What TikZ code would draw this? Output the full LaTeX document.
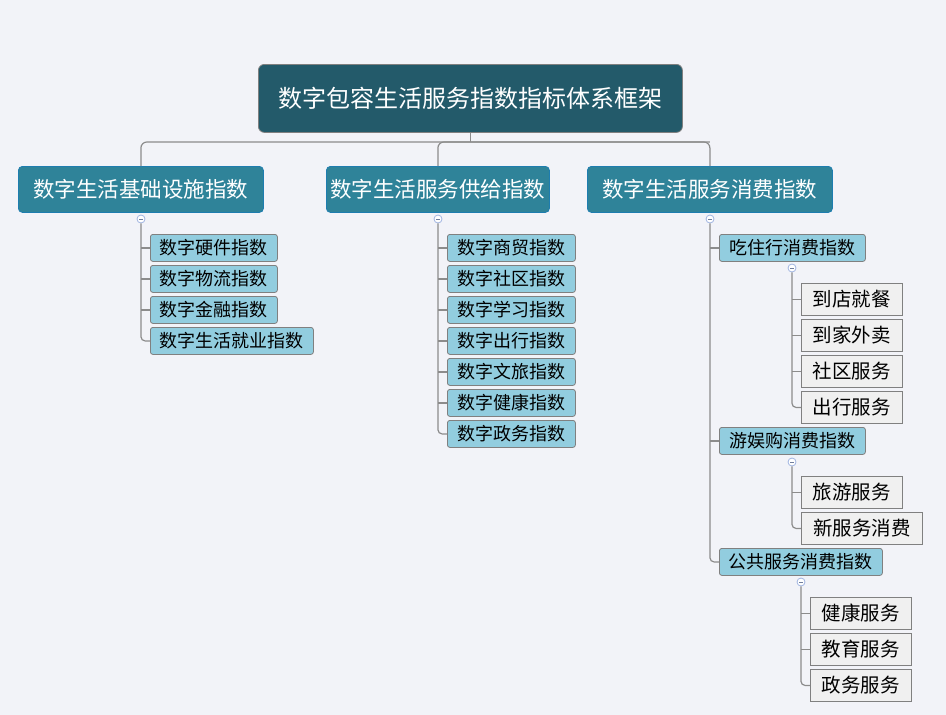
\documentclass[tikz,border=0pt]{standalone}
\usepackage{fontspec}
\setmainfont{Noto Sans CJK SC}
\definecolor{bgc}{RGB}{242,243,248}
\definecolor{rootc}{RGB}{35,90,106}
\definecolor{lonec}{RGB}{47,131,153}
\definecolor{lonebd}{RGB}{30,125,175}
\definecolor{ltwoc}{RGB}{146,205,223}
\definecolor{childc}{RGB}{240,240,240}
\definecolor{bdc}{RGB}{128,128,128}
\definecolor{linec}{RGB}{140,140,140}
\definecolor{togc}{RGB}{160,180,225}
\begin{document}
\begin{tikzpicture}[x=1pt,y=-1pt,
  rootbox/.style={draw=bdc,fill=rootc,rounded corners=6pt,text=white,anchor=north west,inner sep=0pt,font=\fontsize{24}{28}\selectfont,line width=0.8pt},
  onebox/.style={draw=lonebd,fill=lonec,rounded corners=4pt,text=white,anchor=north west,inner sep=0pt,font=\fontsize{21.5}{25}\selectfont,line width=0.8pt},
  twobox/.style={draw=bdc,fill=ltwoc,rounded corners=2.5pt,text=black,anchor=north west,inner sep=0pt,minimum height=27pt,font=\fontsize{18}{21}\selectfont,line width=0.8pt},
  leafbox/.style={draw=bdc,fill=childc,text=black,anchor=north west,inner sep=0pt,minimum height=32pt,font=\fontsize{19.5}{23}\selectfont,line width=0.8pt},
  conn/.style={draw=linec,line width=1.2pt},
  tog/.style={circle,draw=togc,fill=white,minimum size=8pt,inner sep=0pt,line width=0.8pt},
  togminus/.style={draw=togc!70!black,line width=0.7pt}
]
\fill[bgc] (0,0) rectangle (946,715);
\useasboundingbox (0,0) rectangle (946,715);

% root
\node[rootbox,minimum width=424pt,minimum height=68pt] (root) at (258,64) {数字包容生活服务指数指标体系框架};
% level 1
\node[onebox,minimum width=245pt,minimum height=46pt] (A) at (18,166) {数字生活基础设施指数};
\node[onebox,minimum width=223pt,minimum height=46pt] (B) at (326,166) {数字生活服务供给指数};
\node[onebox,minimum width=245pt,minimum height=46pt] (C) at (587,166) {数字生活服务消费指数};

\coordinate (bus) at (470,142);
\draw[conn] (root.south) -- (root.south |- bus);
\draw[conn,rounded corners=6pt] (A.north) |- (C.north |- bus) -- (C.north);
\draw[conn,rounded corners=6pt] (B.north) |- (C.north |- bus);

% A children
\node[twobox,minimum width=127pt] (a1) at (150,234) {数字硬件指数};
\node[twobox,minimum width=127pt] (a2) at (150,265) {数字物流指数};
\node[twobox,minimum width=127pt] (a3) at (150,296) {数字金融指数};
\node[twobox,minimum width=163pt] (a4) at (150,327) {数字生活就业指数};
\node[tog] (ta) at (141,219) {};
\draw[conn,rounded corners=4pt] (ta.south) |- (a4.west);
\foreach \n in {a1,a2,a3} \draw[conn] (\n.west) -- (\n.west -| ta);

% B children
\node[twobox,minimum width=128pt] (b1) at (447,234) {数字商贸指数};
\node[twobox,minimum width=128pt] (b2) at (447,265) {数字社区指数};
\node[twobox,minimum width=128pt] (b3) at (447,296) {数字学习指数};
\node[twobox,minimum width=128pt] (b4) at (447,327) {数字出行指数};
\node[twobox,minimum width=128pt] (b5) at (447,358) {数字文旅指数};
\node[twobox,minimum width=128pt] (b6) at (447,389) {数字健康指数};
\node[twobox,minimum width=128pt] (b7) at (447,420) {数字政务指数};
\node[tog] (tb) at (438,219) {};
\draw[conn,rounded corners=4pt] (tb.south) |- (b7.west);
\foreach \n in {b1,b2,b3,b4,b5,b6} \draw[conn] (\n.west) -- (\n.west -| tb);

% C children
\node[twobox,minimum width=146pt] (c1) at (719,234) {吃住行消费指数};
\node[twobox,minimum width=146pt] (c2) at (719,427) {游娱购消费指数};
\node[twobox,minimum width=163pt] (c3) at (719,548) {公共服务消费指数};
\node[tog] (tc) at (710,219) {};
\draw[conn,rounded corners=4pt] (tc.south) |- (c3.west);
\foreach \n in {c1,c2} \draw[conn] (\n.west) -- (\n.west -| tc);

% c1 leaves
\node[leafbox,minimum width=101pt] (d1) at (801,283) {到店就餐};
\node[leafbox,minimum width=101pt] (d2) at (801,319) {到家外卖};
\node[leafbox,minimum width=101pt] (d3) at (801,355) {社区服务};
\node[leafbox,minimum width=101pt] (d4) at (801,391) {出行服务};
\node[tog] (td) at (792,268) {};
\draw[conn,rounded corners=4pt] (td.south) |- (d4.west);
\foreach \n in {d1,d2,d3} \draw[conn] (\n.west) -- (\n.west -| td);

% c2 leaves
\node[leafbox,minimum width=101pt] (e1) at (801,476) {旅游服务};
\node[leafbox,minimum width=121pt] (e2) at (801,512) {新服务消费};
\node[tog] (te) at (792,462) {};
\draw[conn,rounded corners=4pt] (te.south) |- (e2.west);
\draw[conn] (e1.west) -- (e1.west -| te);

% c3 leaves
\node[leafbox,minimum width=101pt] (f1) at (810,597) {健康服务};
\node[leafbox,minimum width=101pt] (f2) at (810,633) {教育服务};
\node[leafbox,minimum width=101pt] (f3) at (810,669) {政务服务};
\node[tog] (tf) at (801,582) {};
\draw[conn,rounded corners=4pt] (tf.south) |- (f3.west);
\foreach \n in {f1,f2} \draw[conn] (\n.west) -- (\n.west -| tf);

% minus signs in toggles
\foreach \t in {ta,tb,tc,td,te,tf}
  \draw[togminus] ([xshift=-2pt]\t.center) -- ([xshift=2pt]\t.center);
\end{tikzpicture}
\end{document}
